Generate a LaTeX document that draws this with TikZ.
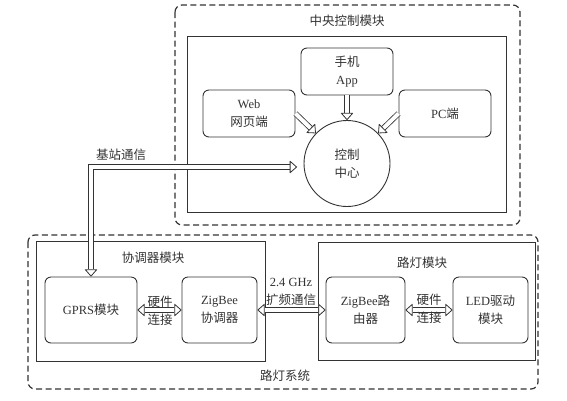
\documentclass[tikz,border=0pt]{standalone}
\usepackage{fontspec}
\setmainfont{Liberation Serif}
\newfontfamily\cjk{Noto Sans CJK SC}
\usetikzlibrary{arrows.meta,calc}
\definecolor{ink}{HTML}{333333}
\begin{document}
\begin{tikzpicture}[x=1pt,y=-1pt,
  every node/.style={text=ink,font=\fontsize{12.5}{18}\selectfont,align=center,inner sep=0pt},
  zone/.style={draw=ink,rounded corners=7pt,line width=1.2pt,dash pattern=on 6pt off 3.5pt},
  panel/.style={draw=ink,line width=0.9pt},
  unit/.style={draw=ink,rounded corners=6pt,line width=0.9pt,minimum height=47pt,minimum width=92pt},
  tall/.style={unit,minimum height=66pt},
  link/.style={draw=ink,double=white,double distance=4pt,line width=0.8pt,
    >={Triangle[width=13pt,length=7.5pt,fill=white,line width=0.8pt,round]}},
]
\useasboundingbox (0,0) rectangle (567,400);
% zones and panels
\draw[zone] (175,5) rectangle (520,225);
\draw[panel] (187,36) rectangle (506,212);
\draw[zone] (28,235) rectangle (538,389);
\draw[panel] (36,241) rectangle (265,361);
\draw[panel] (318,242) rectangle (535,360);
% titles
\node (t1) at (347,21) {\cjk 中央控制模块};
\node (t2) at (153,258) {\cjk 协调器模块};
\node (t3) at (422,263) {\cjk 路灯模块};
\node (t4) at (285,376) {\cjk 路灯系统};
% central module
\node[unit] (app) at (347,71.5) {{\cjk 手机}\\App};
\node[unit] (web) at (249,113.5) {Web\\{\cjk 网页端}};
\node[unit] (pc) at (445,113.5) {PC{\cjk 端}};
\node[draw=ink,line width=0.9pt,circle,minimum size=86pt] (ctrl) at (347,163.5) {{\cjk 控制}\\{\cjk 中心}};
\draw[link,->] (app.south) -- (ctrl);
\draw[link,->] (web.east) -- (ctrl);
\draw[link,->] (pc.west) -- (ctrl);
% lamp system
\node[tall] (gprs) at (91,310) {GPRS{\cjk 模块}};
\node[tall,minimum width=75pt] (zc) at (219.5,310) {ZigBee\\{\cjk 协调器}};
\node[tall,minimum width=79pt] (zr) at (365.5,310) {ZigBee{\cjk 路}\\{\cjk 由器}};
\node[tall,minimum width=75pt] (led) at (490.5,310) {LED{\cjk 驱动}\\{\cjk 模块}};
\coordinate (bs) at (297,167);
\draw[link,<->] (gprs.north) |- (bs);
\node (bsl) at (121,155) {\cjk 基站通信};
\draw[link,<->] (gprs.east) -- (zc.west);
\draw[link,<->] (zc.east) -- (zr.west);
\draw[link,<->] (zr.east) -- (led.west);
\node (h1) at (160,311) {{\cjk 硬件}\\{\cjk 连接}};
\node (rf) at (291,291.5) {2.4 GHz\\{\cjk 扩频通信}};
\node (h2) at (429,309) {{\cjk 硬件}\\{\cjk 连接}};
\end{tikzpicture}
\end{document}
